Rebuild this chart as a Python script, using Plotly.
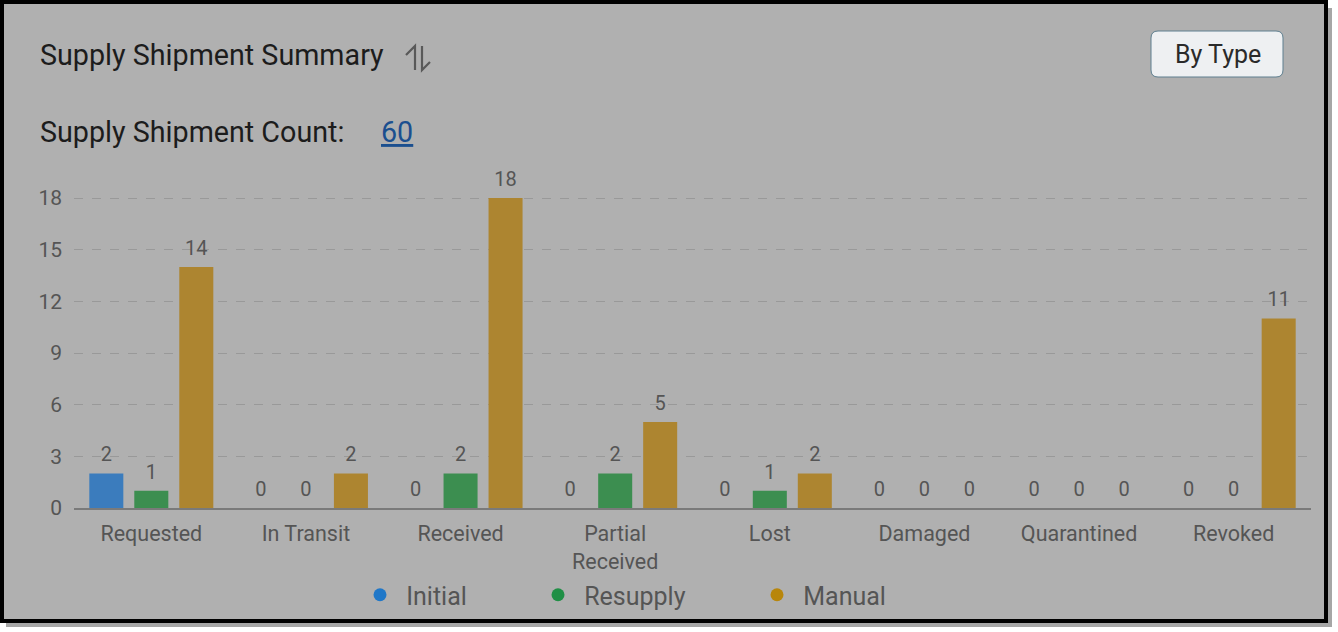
import plotly.graph_objects as go

categories = ["Requested", "In Transit", "Received", "Partial<br>Received", "Lost", "Damaged", "Quarantined", "Revoked"]
initial = [2, 0, 0, 0, 0, 0, 0, 0]
resupply = [1, 0, 2, 2, 1, 0, 0, 0]
manual = [14, 2, 18, 5, 2, 0, 0, 11]
series_names = ["Initial", "Resupply", "Manual"]
bar_colors = ["#3b7cbd", "#3c8e50", "#ad8530"]
dot_colors = ["#1f77c8", "#1f8f45", "#b8860b"]
total_count = 60
y_ticks = [0, 3, 6, 9, 12, 15, 18]

W, H = 1338, 632
L, R, T, B = 74, 1311, 180, 508
GAP = 0.127


def X(px):
    return (px - L) / (R - L)


def Y(py):
    return (B - py) / (B - T)


fig = go.Figure()
for i, (name, vals, col) in enumerate(zip(series_names, [initial, resupply, manual], bar_colors)):
    fig.add_trace(go.Bar(
        x=categories, y=vals, name=name, marker=dict(color=col, line=dict(width=0)),
        offsetgroup=str(i), showlegend=False, hoverinfo="skip",
    ))
for i, (name, vals) in enumerate(zip(series_names, [initial, resupply, manual])):
    fig.add_trace(go.Scatter(
        x=categories, y=vals, mode="markers+text", text=[str(v) for v in vals],
        textposition="top center", offsetgroup=str(i), cliponaxis=False,
        marker=dict(size=10, opacity=0), showlegend=False, hoverinfo="skip",
        textfont=dict(family="Roboto", size=20, color="#555555"),
    ))

legend_x = [360, 538, 757]
for i, (name, col) in enumerate(zip(series_names, dot_colors)):
    fig.add_trace(go.Scatter(
        x=[None], y=[None], mode="markers", name="&nbsp;" + name,
        marker=dict(color=col, size=13, symbol="circle"),
        legend="legend" if i == 0 else f"legend{i+1}",
    ))

legend_common = dict(orientation="h", yanchor="middle", xanchor="left",
                     bgcolor="rgba(0,0,0,0)", borderwidth=0,
                     font=dict(family="Roboto", size=25, color="#555555"))
for i, lx in enumerate(legend_x):
    key = "legend" if i == 0 else f"legend{i+1}"
    fig.update_layout(**{key: dict(x=X(lx), y=Y(595), **legend_common)})

# frame and background
shapes = [
    dict(type="rect", xref="paper", yref="paper", x0=X(6), x1=X(1332), y0=Y(8), y1=Y(627),
         fillcolor="rgba(0,0,0,0.35)", line=dict(width=0), layer="below"),
    dict(type="rect", xref="paper", yref="paper", x0=X(2), x1=X(1326), y0=Y(2), y1=Y(621),
         fillcolor="#b0b0b0", line=dict(color="#000000", width=4), layer="below"),
]

# sort icon (two harpoons)
icon_paths = [
    f"M {X(406)},{Y(55)} L {X(415)},{Y(46)} L {X(415)},{Y(70)}",
    f"M {X(422)},{Y(46)} L {X(422)},{Y(70)} L {X(430)},{Y(62)}",
]
for p in icon_paths:
    shapes.append(dict(type="path", xref="paper", yref="paper", path=p,
                       line=dict(color="#595959", width=2.2), layer="above"))

# rounded button
bx0, bx1, by0, by1, r = 1151, 1283, 31, 77, 7
path = (f"M {X(bx0 + r)},{Y(by0)} L {X(bx1 - r)},{Y(by0)} Q {X(bx1)},{Y(by0)} {X(bx1)},{Y(by0 + r)} "
        f"L {X(bx1)},{Y(by1 - r)} Q {X(bx1)},{Y(by1)} {X(bx1 - r)},{Y(by1)} "
        f"L {X(bx0 + r)},{Y(by1)} Q {X(bx0)},{Y(by1)} {X(bx0)},{Y(by1 - r)} "
        f"L {X(bx0)},{Y(by0 + r)} Q {X(bx0)},{Y(by0)} {X(bx0 + r)},{Y(by0)} Z")
shapes.append(dict(type="path", xref="paper", yref="paper", path=path,
                   fillcolor="#eef0f2", line=dict(color="#5f7f8f", width=1), layer="above"))

annotations = [
    dict(text="Supply Shipment Summary", x=X(38), y=Y(55), xref="paper", yref="paper",
         xanchor="left", yanchor="middle", showarrow=False,
         font=dict(family="Roboto", size=28.7, color="#1c1c1c")),
    dict(text="Supply Shipment Count:", x=X(38), y=Y(132), xref="paper", yref="paper",
         xanchor="left", yanchor="middle", showarrow=False,
         font=dict(family="Roboto", size=28.7, color="#1c1c1c")),
    dict(text=f"<u>{total_count}</u>", x=X(379), y=Y(132), xref="paper", yref="paper",
         xanchor="left", yanchor="middle", showarrow=False,
         font=dict(family="Roboto", size=28.7, color="#1b4f8f")),
    dict(text="By Type", x=X(1218), y=Y(54), xref="paper", yref="paper",
         xanchor="center", yanchor="middle", showarrow=False,
         font=dict(family="Roboto", size=25, color="#2a2a2a")),
]

fig.update_layout(
    width=W, height=H,
    margin=dict(l=L, r=W - R, t=T, b=H - B, pad=0),
    paper_bgcolor="#ffffff", plot_bgcolor="rgba(0,0,0,0)",
    barmode="group", bargap=GAP, bargroupgap=0.244,
    scattermode="group", scattergap=GAP,
    shapes=shapes, annotations=annotations,
    font=dict(family="Roboto"),
    xaxis=dict(showgrid=False, showline=True, linecolor="#7a7a7a", linewidth=1.5,
               ticks="", ticklabelstandoff=5,
               tickfont=dict(family="Roboto", size=21.5, color="#555555"),
               fixedrange=True),
    yaxis=dict(range=[0, (B - T) / ((B - 198) / 18)], tickvals=y_ticks, showgrid=True,
               gridcolor="#999999", griddash="dash", gridwidth=1, zeroline=False,
               showline=False, ticks="", ticklabelstandoff=11,
               tickfont=dict(family="Roboto", size=21, color="#555555"), fixedrange=True),
)

fig.write_html("out.html")
